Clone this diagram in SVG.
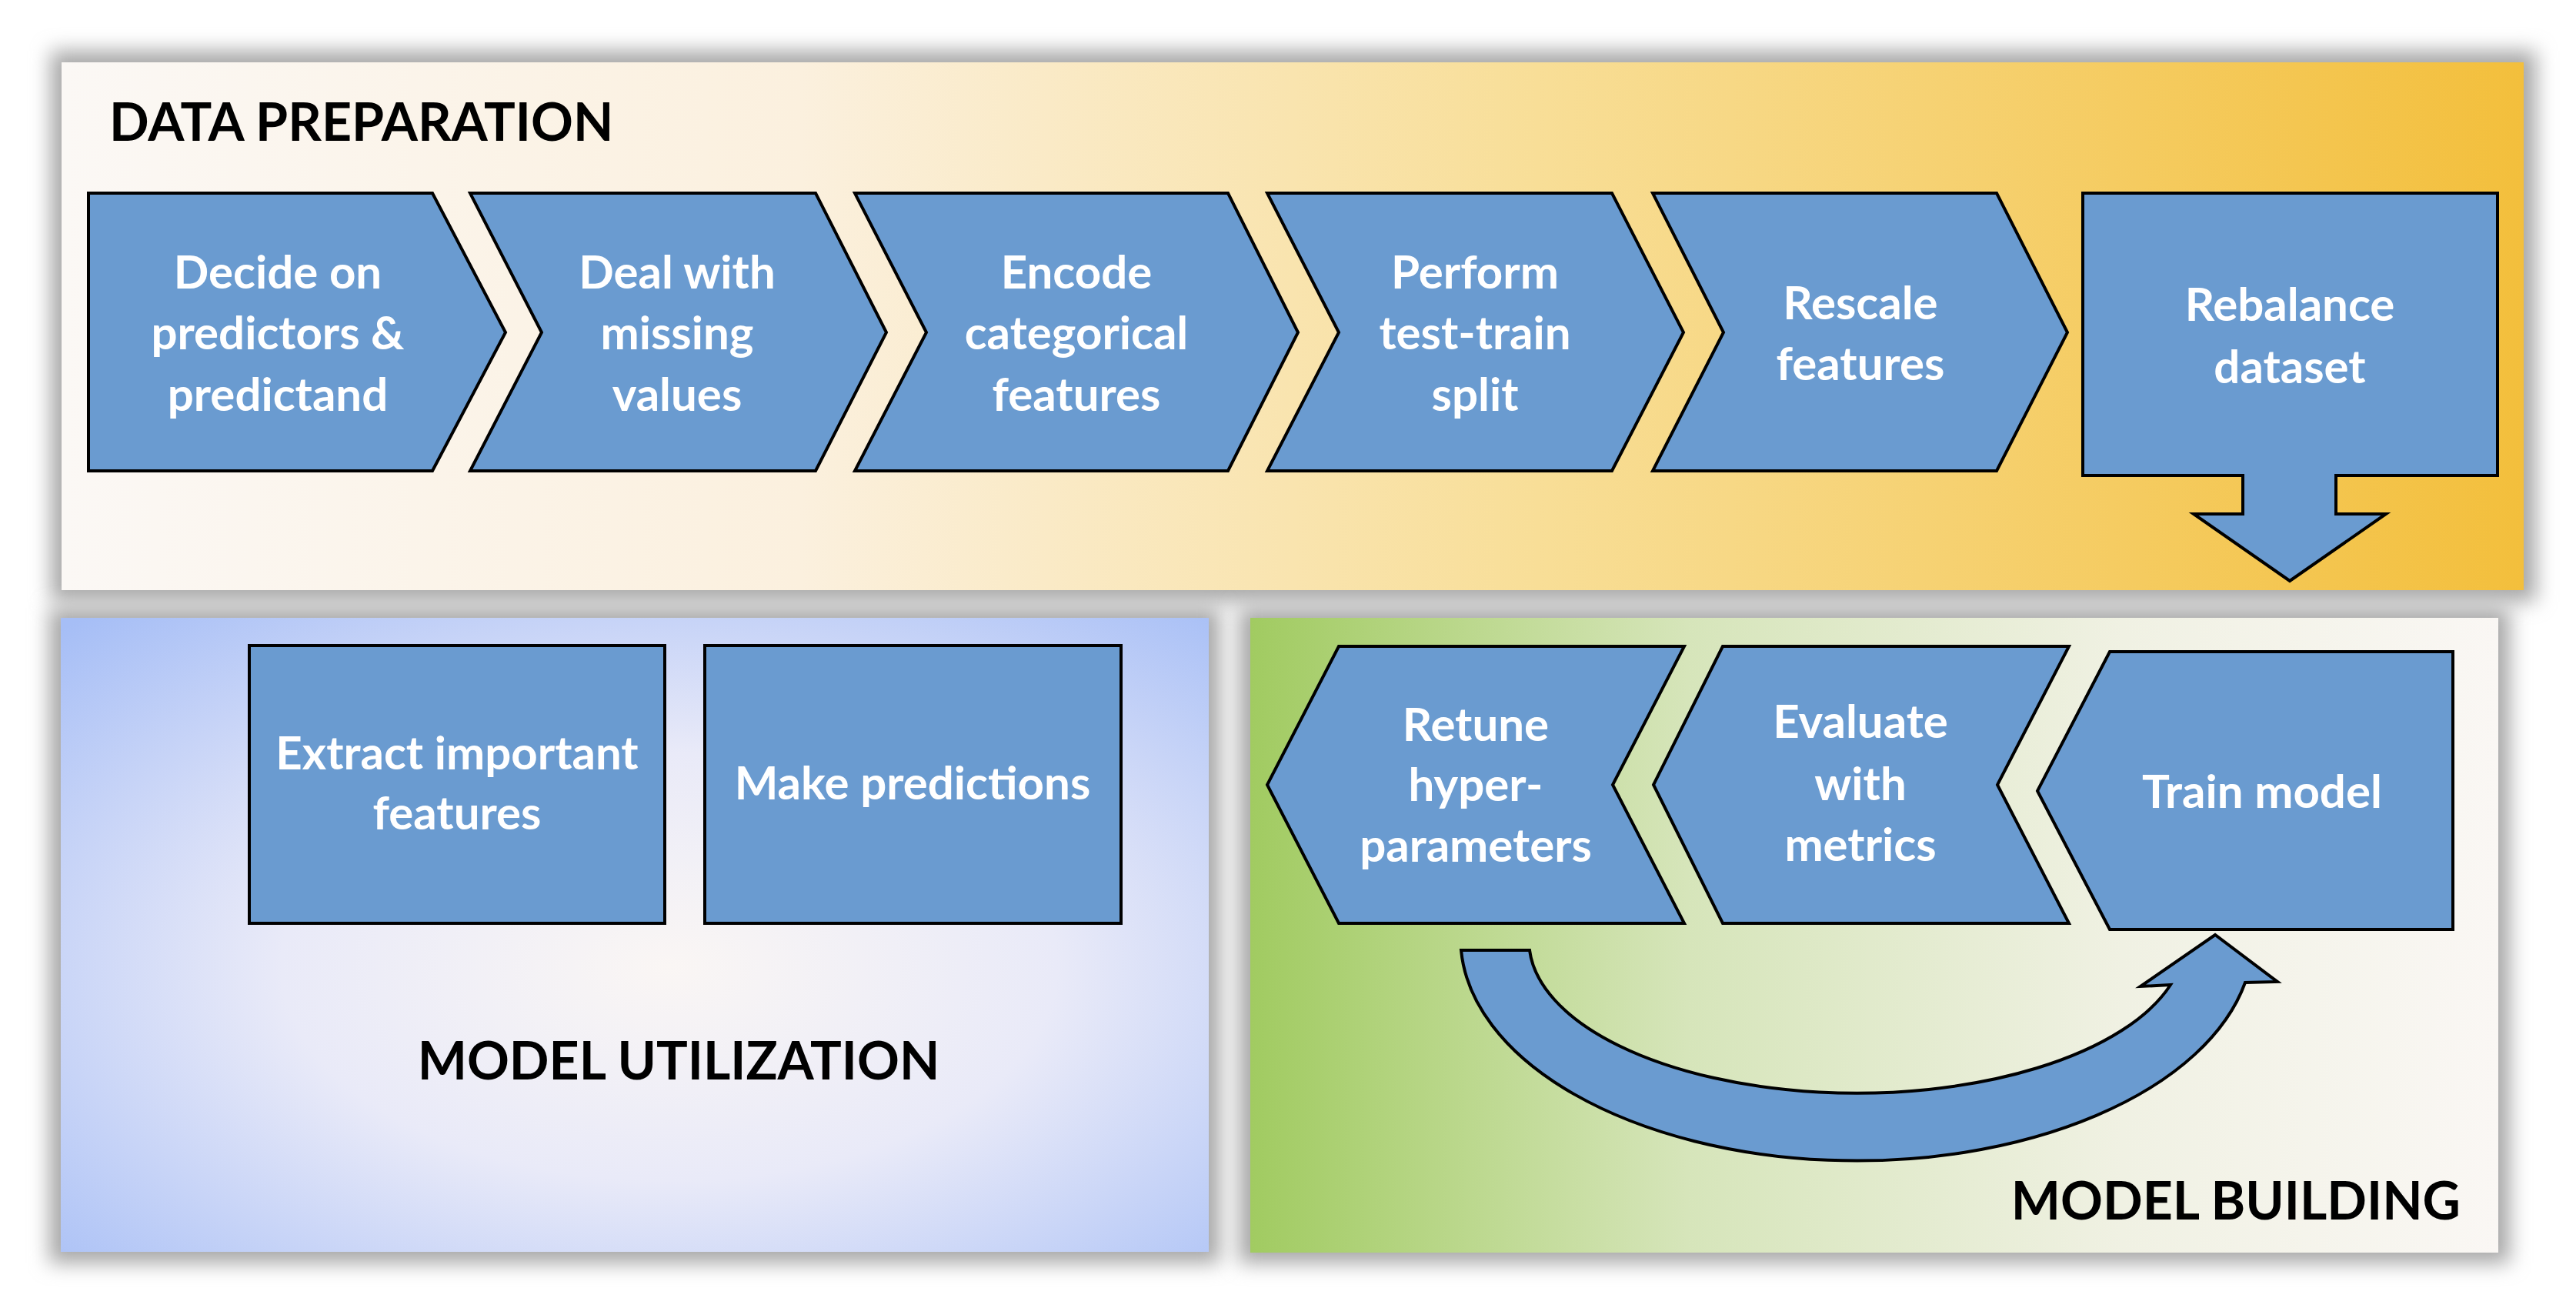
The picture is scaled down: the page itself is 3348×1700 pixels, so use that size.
<svg xmlns="http://www.w3.org/2000/svg" width="3348" height="1700" viewBox="0 0 3348 1700">
<defs>
<linearGradient id="gPrep" x1="0" y1="0" x2="1" y2="0">
<stop offset="0" stop-color="#FBF8F5"/>
<stop offset="0.3" stop-color="#FBF0DE"/>
<stop offset="0.6" stop-color="#F8DE97"/>
<stop offset="1" stop-color="#F3BF3C"/>
</linearGradient>
<radialGradient id="gUtil" cx="0.53" cy="0.55" r="0.75" fx="0.53" fy="0.55">
<stop offset="0" stop-color="#FAF6F4"/>
<stop offset="0.45" stop-color="#E9EAF8"/>
<stop offset="1" stop-color="#A6BEF6"/>
</radialGradient>
<linearGradient id="gBuild" x1="0" y1="0" x2="1" y2="0">
<stop offset="0" stop-color="#A1CB61"/>
<stop offset="0.35" stop-color="#D6E5BA"/>
<stop offset="0.7" stop-color="#F0F1E3"/>
<stop offset="1" stop-color="#FAF7F4"/>
</linearGradient>
<filter id="blur" x="-10%" y="-20%" width="120%" height="140%">
<feGaussianBlur stdDeviation="13"/>
</filter>
</defs>
<style>
.shape{fill:#6A9BD0;stroke:#000;stroke-width:4;stroke-linejoin:miter}
.lbl{font-family:Lato,"Open Sans","Liberation Sans",sans-serif;font-weight:bold;font-size:60px;fill:#FFFFFF;text-anchor:middle}
.ttl{font-family:Lato,"Open Sans","Liberation Sans",sans-serif;font-weight:bold;font-size:68px;fill:#000000}
.shadow{fill:#A8A8A8;filter:url(#blur)}
</style>
<rect width="3348" height="1700" fill="#FFFFFF"/>

<g id="shadows">
<rect class="shadow" x="66" y="66" width="3230" height="716"/>
<rect class="shadow" x="64" y="790" width="1522" height="852"/>
<rect class="shadow" x="1610" y="790" width="1652" height="852"/>
</g>

<g id="panel-data-preparation">
<rect x="80" y="81" width="3200" height="686" fill="url(#gPrep)"/>
<text class="ttl" x="142" y="183">DATA PREPARATION</text>
</g>
<g id="panel-model-utilization">
<rect x="79" y="803" width="1492" height="824" fill="url(#gUtil)"/>
<text class="ttl" x="882" y="1403" text-anchor="middle">MODEL UTILIZATION</text>
</g>
<g id="panel-model-building">
<rect x="1625" y="803" width="1622" height="825" fill="url(#gBuild)"/>
<text class="ttl" x="3198" y="1585" text-anchor="end">MODEL BUILDING</text>
</g>

<g id="node-decide">
<polygon class="shape" points="115,251 562,251 657,432 562,612 115,612"/>
<text class="lbl" x="361" y="375">Decide on</text>
<text class="lbl" x="361" y="454">predictors &amp;</text>
<text class="lbl" x="361" y="534">predictand</text>
</g>
<g id="node-missing">
<polygon class="shape" points="611,251 1060,251 1152,432 1060,612 611,612 704,432"/>
<text class="lbl" x="880" y="375">Deal with</text>
<text class="lbl" x="880" y="454">missing</text>
<text class="lbl" x="880" y="534">values</text>
</g>
<g id="node-encode">
<polygon class="shape" points="1111,251 1596,251 1687,432 1596,612 1111,612 1204,432"/>
<text class="lbl" x="1399" y="375">Encode</text>
<text class="lbl" x="1399" y="454">categorical</text>
<text class="lbl" x="1399" y="534">features</text>
</g>
<g id="node-split">
<polygon class="shape" points="1647,251 2095,251 2188,432 2095,612 1647,612 1740,432"/>
<text class="lbl" x="1917" y="375">Perform</text>
<text class="lbl" x="1917" y="454">test-train</text>
<text class="lbl" x="1917" y="534">split</text>
</g>
<g id="node-rescale">
<polygon class="shape" points="2148,251 2595,251 2687,432 2595,612 2148,612 2240,432"/>
<text class="lbl" x="2418" y="415">Rescale</text>
<text class="lbl" x="2418" y="494">features</text>
</g>
<g id="node-rebalance">
<polygon class="shape" points="2707,251 3246,251 3246,618 3036,618 3036,668 3101,668 2976,755 2851,668 2915,668 2915,618 2707,618"/>
<text class="lbl" x="2976" y="417">Rebalance</text>
<text class="lbl" x="2976" y="498">dataset</text>
</g>

<g id="node-extract">
<rect class="shape" x="324" y="839" width="540" height="361"/>
<text class="lbl" x="594" y="1000">Extract important</text>
<text class="lbl" x="594" y="1078">features</text>
</g>
<g id="node-predict">
<rect class="shape" x="916" y="839" width="541" height="361"/>
<text class="lbl" x="1186" y="1039">Make predictions</text>
</g>

<g id="node-retune">
<polygon class="shape" points="1647,1020 1740,840 2189,840 2096,1020 2189,1200 1740,1200"/>
<text class="lbl" x="1918" y="963">Retune</text>
<text class="lbl" x="1918" y="1041">hyper-</text>
<text class="lbl" x="1918" y="1120">parameters</text>
</g>
<g id="node-evaluate">
<polygon class="shape" points="2149,1020 2239,840 2689,840 2596,1020 2689,1200 2239,1200"/>
<text class="lbl" x="2418" y="959">Evaluate</text>
<text class="lbl" x="2418" y="1040">with</text>
<text class="lbl" x="2418" y="1119">metrics</text>
</g>
<g id="node-train">
<polygon class="shape" points="2648,1028 2742,847 3188,847 3188,1208 2742,1208"/>
<text class="lbl" x="2940" y="1050">Train model</text>
</g>

<g id="connectors">
<path class="shape" d="M1899,1235 L1988,1235 A426,198 0 0 0 2821,1280 L2782,1282 L2879,1215 L2960,1276 L2918,1277 A515,289 0 0 1 1899,1235 Z"/>
</g>
</svg>
